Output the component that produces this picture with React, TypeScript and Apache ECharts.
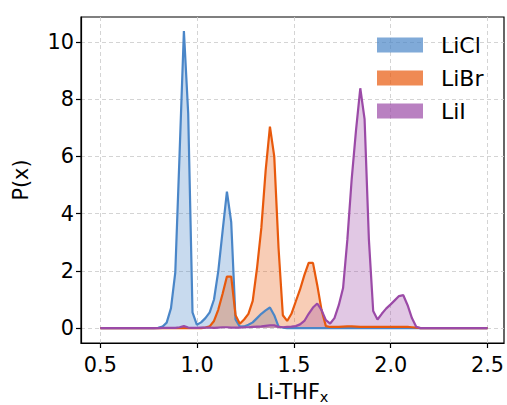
import React, { useEffect, useRef } from "react";
import * as echarts from "echarts";

// Sampling grid of the density curves (x = Li-THF_x)
const X_FIRST = 0.5093;
const X_STEP = 2 / 90;
const X_MIN_DATA = 0.5;
const X_MAX_DATA = 2.5;

const seriesNames = ["LiCl", "LiBr", "LiI"];

const liCl = [
  0, 0, 0, 0, 0, 0, 0, 0, 0, 0,
  0, 0, 0, 0.01, 0.05, 0.19, 0.7, 1.95, 6.1, 10.38,
  7.5, 0.55, 0.12, 0.2, 0.35, 0.55, 1.0, 2.0, 3.4, 4.77,
  3.7, 0.3, 0.05, 0.06, 0.12, 0.2, 0.35, 0.5, 0.62, 0.72,
  0.45, 0.05, 0.02, 0, 0, 0, 0, 0, 0, 0,
  0, 0, 0, 0, 0, 0, 0, 0, 0, 0,
  0, 0, 0, 0, 0, 0, 0, 0, 0, 0,
  0, 0, 0, 0, 0, 0, 0, 0, 0, 0,
  0, 0, 0, 0, 0, 0, 0, 0, 0, 0,
];

const liBr = [
  0, 0, 0, 0, 0, 0, 0, 0, 0, 0,
  0, 0, 0, 0, 0, 0, 0, 0, 0, 0,
  0, 0, 0, 0, 0.02, 0.06, 0.25, 0.65, 1.2, 1.8,
  1.8, 0.45, 0.15, 0.3, 0.5, 0.95, 2.1, 3.5, 5.5, 7.04,
  6.0, 2.8, 0.45, 0.25, 0.5, 0.93, 1.35, 1.85, 2.28, 2.28,
  1.5, 0.63, 0.07, 0.04, 0.04, 0.04, 0.05, 0.06, 0.06, 0.05,
  0.04, 0.04, 0.04, 0.04, 0.04, 0.04, 0.04, 0.04, 0.04, 0.04,
  0.04, 0.04, 0.03, 0.02, 0, 0, 0, 0, 0, 0,
  0, 0, 0, 0, 0, 0, 0, 0, 0, 0,
];

const liI = [
  0, 0, 0, 0, 0, 0, 0, 0, 0, 0,
  0, 0, 0, 0, 0.01, 0.01, 0.01, 0.01, 0.03, 0.07,
  0.02, 0.01, 0.01, 0.02, 0.02, 0.02, 0.01, 0.02, 0.03, 0.03,
  0.02, 0.02, 0.02, 0.03, 0.03, 0.04, 0.05, 0.06, 0.08, 0.1,
  0.1, 0.04, 0.03, 0.04, 0.05, 0.07, 0.13, 0.25, 0.5, 0.72,
  0.86, 0.63, 0.28, 0.16, 0.35, 0.8, 1.4, 3.1, 5.2, 6.9,
  8.38, 7.3, 3.1, 0.6, 0.3, 0.5, 0.68, 0.82, 0.97, 1.12,
  1.15, 0.8, 0.35, 0.05, 0, 0, 0, 0, 0, 0,
  0, 0, 0, 0, 0, 0, 0, 0, 0, 0,
];

const xTicks = [0.5, 1.0, 1.5, 2.0, 2.5];
const yTicks = [0, 2, 4, 6, 8, 10];

const lineColors = ["#4a86c8", "#e8590c", "#9b4aa7"];

function toPairs(ys: number[]): [number, number][] {
  const pts: [number, number][] = [[X_MIN_DATA, 0]];
  ys.forEach((y, k) => pts.push([X_FIRST + k * X_STEP, y]));
  pts.push([X_MAX_DATA, 0]);
  return pts;
}

export default function App() {
  const ref = useRef<HTMLDivElement>(null);
  useEffect(() => {
    document.body.style.margin = "0";
    if (!ref.current) return;
    const chart = echarts.init(ref.current, null, { renderer: "svg" });
    const font = "DejaVu Sans";
    const allData = [liCl, liBr, liI];

    // fills first (below), outlines afterwards (above all fills)
    const fillSeries = seriesNames.map((n, i) => ({
      name: n,
      type: "line",
      data: toPairs(allData[i]),
      showSymbol: false,
      symbol: "none",
      smooth: false,
      itemStyle: { color: lineColors[i] },
      lineStyle: { width: 0, opacity: 0 },
      areaStyle: { color: lineColors[i], opacity: 0.3 },
      emphasis: { disabled: true },
      z: 2,
    }));
    const lineSeries = seriesNames.map((n, i) => ({
      name: n,
      type: "line",
      data: toPairs(allData[i]),
      showSymbol: false,
      symbol: "none",
      smooth: false,
      itemStyle: { color: lineColors[i] },
      lineStyle: { color: lineColors[i], width: 2.2 },
      emphasis: { disabled: true },
      z: 5 + i,
    }));

    chart.setOption({
      animation: false,
      grid: {
        left: 81,
        top: 17,
        width: 423,
        height: 326,
        outerBoundsMode: "none",
        containLabel: false,
        show: true,
        borderColor: "#000",
        borderWidth: 1.2,
        backgroundColor: "transparent",
      },
      legend: {
        orient: "vertical",
        left: 372,
        top: 29,
        padding: 5,
        itemWidth: 46,
        itemHeight: 15,
        itemGap: 11,
        icon: "rect",
        textStyle: {
          fontSize: 22,
          fontFamily: font,
          color: "#000",
          lineHeight: 22,
          padding: [0, 0, 0, 13],
        },
        data: seriesNames.map((n, i) => ({
          name: n,
          itemStyle: { color: lineColors[i], opacity: 0.7, borderWidth: 0 },
        })),
      },
      xAxis: {
        type: "value",
        min: 0.4,
        max: 2.585,
        name: "Li-THF{s|x}",
        nameLocation: "middle",
        nameGap: 32,
        nameTextStyle: {
          fontSize: 20.8,
          fontFamily: font,
          color: "#000",
          lineHeight: 24,
          rich: {
            s: { fontSize: 14.5, fontFamily: font, color: "#000", lineHeight: 24, padding: [10, 0, 0, 0] },
          },
        },
        axisLine: { show: true, onZero: false, lineStyle: { color: "#000", width: 1.2 } },
        axisTick: {
          show: true,
          customValues: xTicks,
          length: 5,
          lineStyle: { color: "#000", width: 1.2 },
        },
        axisLabel: {
          customValues: xTicks,
          formatter: (v: number) => v.toFixed(1),
          fontSize: 20.8,
          fontFamily: font,
          color: "#000",
          margin: 11,
        },
        splitLine: {
          show: true,
          lineStyle: { color: "#cfcfcf", width: 0.9, type: [4, 3] },
        },
      },
      yAxis: {
        type: "value",
        min: -0.52,
        max: 10.87,
        name: "P(x)",
        nameLocation: "middle",
        nameGap: 50,
        nameTextStyle: { fontSize: 20.8, fontFamily: font, color: "#000" },
        axisLine: { show: true, onZero: false, lineStyle: { color: "#000", width: 1.2 } },
        axisTick: {
          show: true,
          customValues: yTicks,
          length: 5,
          lineStyle: { color: "#000", width: 1.2 },
        },
        axisLabel: {
          customValues: yTicks,
          formatter: (v: number) => String(Math.round(v)),
          fontSize: 20.8,
          fontFamily: font,
          color: "#000",
          margin: 7,
        },
        splitLine: {
          show: true,
          lineStyle: { color: "#cfcfcf", width: 0.9, type: [4, 3] },
        },
      },
      series: [...fillSeries, ...lineSeries],
    });
    return () => chart.dispose();
  }, []);
  return <div ref={ref} style={{ width: 507, height: 405 }} />;
}
